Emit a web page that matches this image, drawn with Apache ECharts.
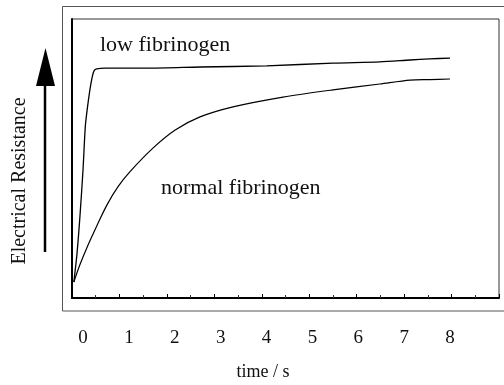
<!DOCTYPE html>
<html>
<head>
<meta charset="utf-8">
<script src="https://cdn.jsdelivr.net/npm/echarts@6/dist/echarts.min.js"></script>
<style>html,body{margin:0;padding:0;background:#fff;}#c{width:504px;height:385px;}</style>
</head>
<body>
<div id="c"></div>
<script>
// time (s) values and resistance (arbitrary units, 0-100)
const lowTime  = [-0.2, -0.13, -0.065, 0, 0.05, 0.09, 0.15, 0.2, 0.24, 0.3, 0.48, 1.46, 2.55, 4.0, 5.45, 6.47, 7.13, 7.56, 8.0];
const lowValue = [5.7, 16.1, 29.7, 45.9, 61.5, 67.4, 74.6, 79.2, 81.4, 82.1, 82.4, 82.4, 82.8, 83.2, 84.2, 84.6, 85.3, 85.7, 86.0];
const normTime  = [-0.2, -0.07, 0.11, 0.31, 0.52, 0.76, 1.02, 1.53, 2.01, 2.55, 3.27, 4.36, 5.45, 6.47, 7.13, 7.56, 8.0];
const normValue = [5.7, 11.8, 19.0, 26.2, 33.3, 39.8, 45.2, 53.8, 60.2, 64.9, 68.5, 72.0, 74.6, 76.7, 78.1, 78.3, 78.5];
const xTickLabels = [0, 1, 2, 3, 4, 5, 6, 7, 8];
const seriesNames = ['low fibrinogen', 'normal fibrinogen'];

const serif = '"Liberation Serif", "DejaVu Serif", serif';
const chart = echarts.init(document.getElementById('c'), null, {renderer: 'canvas'});

function pairs(xs, ys) { return xs.map((x, i) => [x, ys[i]]); }

chart.setOption({
  animation: false,
  backgroundColor: '#fff',
  grid: {left: 72, right: 5, top: 19, bottom: 87, show: true, borderColor: '#333', borderWidth: 1},
  xAxis: [
    {
      type: 'value', min: -0.24, max: 9.068,
      axisLine: {show: true, onZero: false, lineStyle: {color: '#000', width: 2}},
      axisTick: {show: false},
      splitLine: {show: false},
      axisLabel: {
        customValues: xTickLabels,
        fontFamily: serif, fontSize: 19, color: '#111', margin: 31
      }
    },
    {
      type: 'value', min: 0, max: 9, interval: 1, position: 'bottom',
      axisLine: {show: false, onZero: false},
      axisTick: {show: true, inside: true, length: 4, lineStyle: {color: '#000', width: 1}},
      minorTick: {show: true, splitNumber: 2, length: 3, lineStyle: {color: '#333', width: 1}},
      axisLabel: {show: false},
      splitLine: {show: false}
    }
  ],
  yAxis: {
    type: 'value', min: 0, max: 100,
    axisLine: {show: true, onZero: false, lineStyle: {color: '#000', width: 2}},
    axisTick: {show: false}, axisLabel: {show: false}, splitLine: {show: false}
  },
  series: [
    {name: seriesNames[0], type: 'line', data: pairs(lowTime, lowValue), symbol: 'none', smooth: 0.25,
     lineStyle: {color: '#000', width: 1.3}},
    {name: seriesNames[1], type: 'line', data: pairs(normTime, normValue), symbol: 'none', smooth: 0.3,
     lineStyle: {color: '#000', width: 1.2}}
  ],
  graphic: [
    {type: 'rect', shape: {x: 62.5, y: 6.5, width: 460, height: 304.5}, style: {fill: null, stroke: '#555', lineWidth: 1}, z: 0, silent: true},
    {type: 'line', shape: {x1: 45, y1: 252, x2: 45, y2: 80}, style: {stroke: '#000', lineWidth: 2.5}},
    {type: 'polygon', shape: {points: [[36, 86], [55, 86], [45.5, 48]]}, style: {fill: '#000'}},
    {type: 'text', rotation: Math.PI / 2, x: 20, y: 181,
     style: {text: 'Electrical Resistance', font: '20px ' + serif, fill: '#111', textAlign: 'center', textVerticalAlign: 'middle'}},
    {type: 'text', x: 100, y: 45,
     style: {text: seriesNames[0], font: '22px ' + serif, fill: '#111', textAlign: 'left', textVerticalAlign: 'middle'}},
    {type: 'text', x: 161, y: 188,
     style: {text: seriesNames[1], font: '22px ' + serif, fill: '#111', textAlign: 'left', textVerticalAlign: 'middle'}},
    {type: 'text', x: 263, y: 372,
     style: {text: 'time / s', font: '18px ' + serif, fill: '#111', textAlign: 'center', textVerticalAlign: 'middle'}}
  ]
});
</script>
</body>
</html>
